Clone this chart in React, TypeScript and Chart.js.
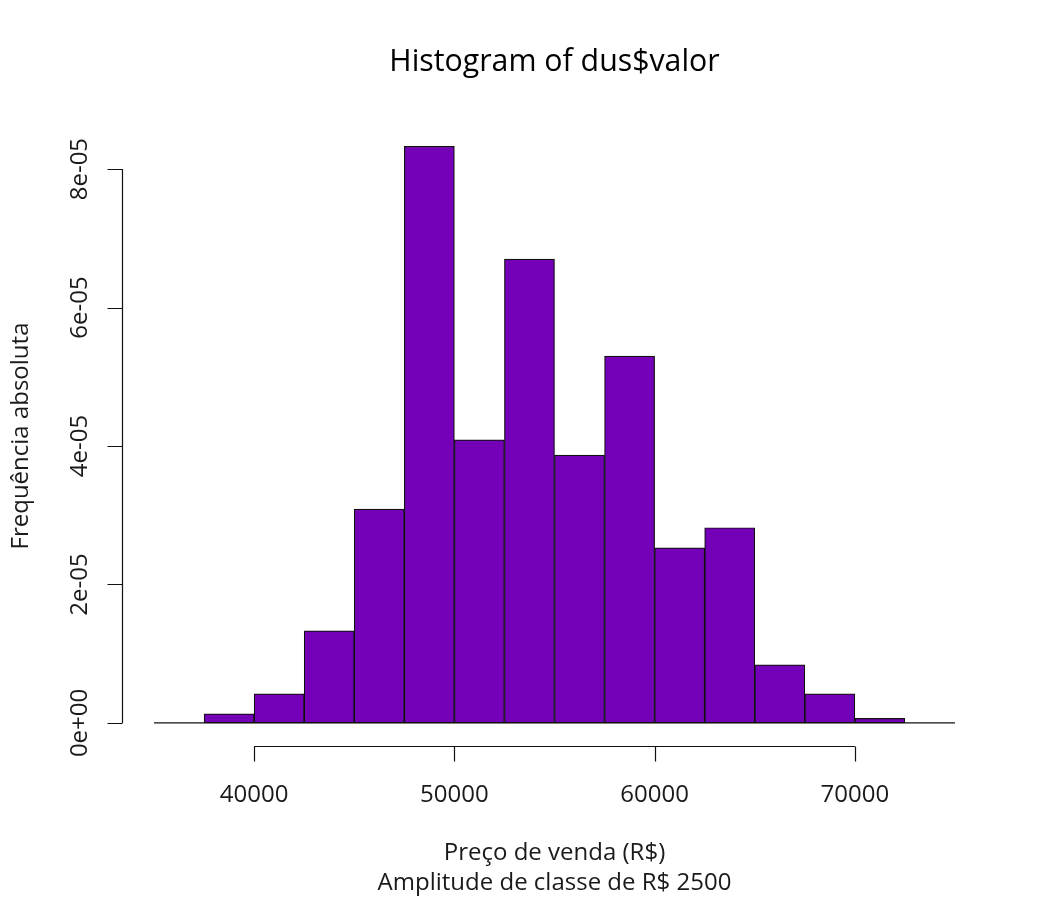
import React, { useEffect, useRef } from "react";
import { Chart, registerables } from "chart.js";

Chart.register(...registerables);

const binStarts = [37500, 40000, 42500, 45000, 47500, 50000, 52500, 55000, 57500, 60000, 62500, 65000, 67500, 70000];
const binWidth = 2500;
const densities = [0.13e-5, 0.42e-5, 1.33e-5, 3.09e-5, 8.33e-5, 4.09e-5, 6.70e-5, 3.87e-5, 5.30e-5, 2.53e-5, 2.82e-5, 0.84e-5, 0.42e-5, 0.065e-5];
const baselineRange = [35000, 75000];
const xTicks = [40000, 50000, 60000, 70000];
const yTicks = [0, 2e-5, 4e-5, 6e-5, 8e-5];
const yTickLabels = ["0e+00", "2e-05", "4e-05", "6e-05", "8e-05"];
const titleText = "Histogram of dus$valor";
const xLabelLines = ["Preço de venda (R$)", "Amplitude de classe de R$ 2500"];
const yLabelText = "Frequência absoluta";

const FONT = "'Open Sans', 'DejaVu Sans', sans-serif";
const TICK_LEN = 15;

const rAxesPlugin = {
  id: "rAxes",
  afterDraw(chart: any) {
    const ctx = chart.ctx;
    const xs = chart.scales.x;
    const ys = chart.scales.y;
    const area = chart.chartArea;
    ctx.save();
    ctx.strokeStyle = "#111";
    ctx.fillStyle = "#1a1a1a";
    ctx.lineWidth = 1.2;
    // x axis
    const yAx = Math.round(area.bottom) + 0.5;
    ctx.beginPath();
    ctx.moveTo(xs.getPixelForValue(xTicks[0]), yAx);
    ctx.lineTo(xs.getPixelForValue(xTicks[xTicks.length - 1]), yAx);
    xTicks.forEach((t) => {
      const px = Math.round(xs.getPixelForValue(t)) + 0.5;
      ctx.moveTo(px, yAx);
      ctx.lineTo(px, yAx + TICK_LEN);
    });
    ctx.stroke();
    ctx.font = `24px ${FONT}`;
    ctx.textAlign = "center";
    ctx.textBaseline = "middle";
    xTicks.forEach((t) => {
      ctx.fillText(String(t), xs.getPixelForValue(t), 795);
    });
    // y axis
    const xAx = Math.round(area.left) + 0.5;
    ctx.beginPath();
    ctx.moveTo(xAx, ys.getPixelForValue(yTicks[0]));
    ctx.lineTo(xAx, ys.getPixelForValue(yTicks[yTicks.length - 1]));
    yTicks.forEach((t) => {
      const py = Math.round(ys.getPixelForValue(t)) + 0.5;
      ctx.moveTo(xAx, py);
      ctx.lineTo(xAx - TICK_LEN, py);
    });
    ctx.stroke();
    yTicks.forEach((t, i) => {
      ctx.save();
      ctx.translate(80, ys.getPixelForValue(t));
      ctx.rotate(-Math.PI / 2);
      ctx.fillText(yTickLabels[i], 0, 0);
      ctx.restore();
    });
    // title
    ctx.fillStyle = "#000";
    ctx.font = `500 30.3px ${FONT}`;
    ctx.fillText(titleText, (area.left + area.right) / 2, 62);
    // x label
    ctx.fillStyle = "#1a1a1a";
    ctx.font = `24px ${FONT}`;
    ctx.fillText(xLabelLines[0], (area.left + area.right) / 2, 853);
    ctx.fillText(xLabelLines[1], (area.left + area.right) / 2, 883);
    // y label
    ctx.save();
    ctx.translate(21, 436);
    ctx.rotate(-Math.PI / 2);
    ctx.fillText(yLabelText, 0, 0);
    ctx.restore();
    ctx.restore();
  },
};

export default function App() {
  const ref = useRef<HTMLCanvasElement>(null);
  useEffect(() => {
    document.body.style.margin = "0";
    const canvas = ref.current!;
    const chart = new Chart(canvas, {
      type: "bar",
      data: {
        datasets: [
          {
            type: "line",
            data: baselineRange.map((x) => ({ x, y: 0 })),
            borderColor: "#111",
            borderWidth: 1.2,
            pointRadius: 0,
          } as any,
          {
            type: "bar",
            data: binStarts.map((s, i) => ({ x: s + binWidth / 2, y: densities[i] })),
            backgroundColor: "#7400B8",
            borderColor: "#111",
            borderWidth: 1.2,
            borderSkipped: false,
            barPercentage: 1,
            categoryPercentage: 1,
          } as any,
        ],
      },
      options: {
        responsive: false,
        animation: false,
        layout: { padding: { left: 122, right: 63, top: 123, bottom: 154 } },
        plugins: { legend: { display: false }, tooltip: { enabled: false }, title: { display: false } },
        scales: {
          x: { type: "linear", min: 33400, max: 76600, offset: false, display: false },
          y: { type: "linear", min: -0.3332e-5, max: 8.666e-5, display: false },
        },
      },
      plugins: [rAxesPlugin],
    });
    return () => chart.destroy();
  }, []);
  return (
    <div style={{ width: 1050, height: 900, background: "#fff" }}>
      <canvas ref={ref} width={1050} height={900} style={{ display: "block" }} />
    </div>
  );
}
